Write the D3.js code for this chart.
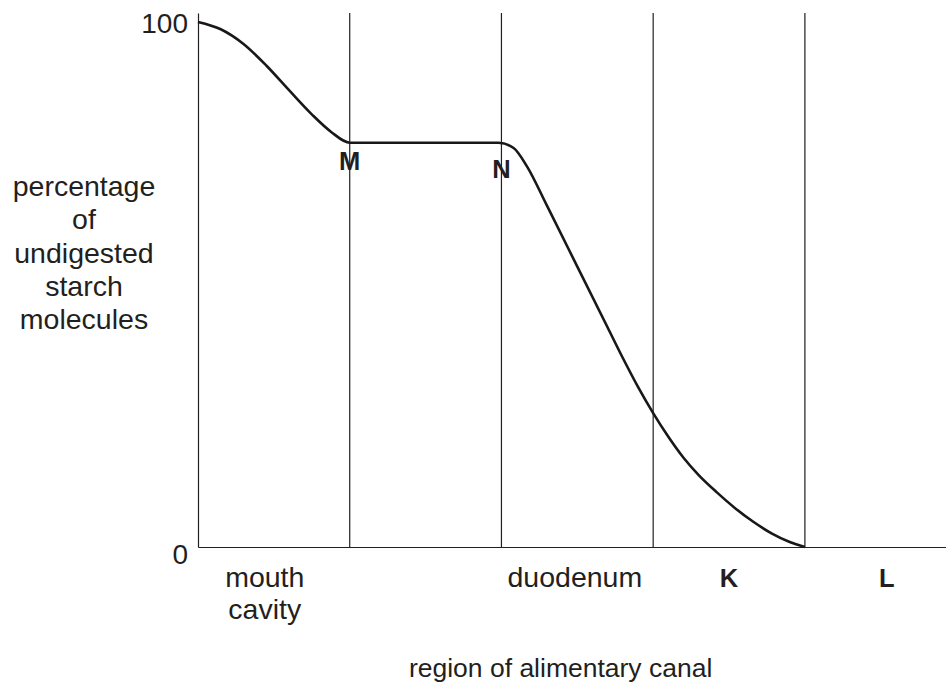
<!DOCTYPE html>
<html>
<head>
<meta charset="utf-8">
<script src="https://cdn.jsdelivr.net/npm/d3@7"></script>
<style>
  body { margin: 0; background: #fff; }
  svg { display: block; }
  text { font-family: "Liberation Sans", Arial, Helvetica, sans-serif; fill: #231f20; }
</style>
</head>
<body>
<div id="chart"></div>
<script>
// region units along x (one unit per region of the canal), percentage on y
var curveX = [0, 0.15, 0.3, 0.45, 0.6, 0.75, 0.88, 1.0, 1.5, 1.98, 2.08, 2.17, 2.3, 2.5, 2.7, 2.8, 2.9, 3.0, 3.1, 3.2, 3.3, 3.42, 3.54, 3.66, 3.78, 3.9, 4.0];
var curveY = [100, 98.6, 95.8, 91.7, 87.0, 82.4, 79.0, 77, 77, 77, 76, 72.4, 65.0, 53.4, 41.8, 36.0, 30.5, 25.5, 21.0, 17.0, 13.7, 10.4, 7.4, 4.8, 2.6, 0.95, 0];

var boundaries = [1, 2, 3, 4];
var yTicks = [0, 100];

var pointNames = ["M", "N"];
var pointX = [1, 2];
var pointY = [77, 77];

var regionNames = [["mouth", "cavity"], ["duodenum"], ["K"], ["L"]];
var regionX = [0.44, 2.484, 3.5, 4.54];
var regionBold = [false, false, true, true];

var yLabel = ["percentage", "of", "undigested", "starch", "molecules"];
var xLabel = "region of alimentary canal";

var width = 946, height = 688;
var ink = "#231f20";

var svg = d3.select("#chart").append("svg")
    .attr("width", width)
    .attr("height", height);

var x = d3.scaleLinear().domain([0, 4.93]).range([198, 946]);
var y = d3.scaleLinear().domain([0, 101.7]).range([547, 13]);

// region boundaries
svg.append("g").selectAll("line")
    .data(boundaries)
    .enter().append("line")
    .attr("x1", function(d) { return x(d); })
    .attr("x2", function(d) { return x(d); })
    .attr("y1", y(0))
    .attr("y2", y.range()[1])
    .attr("stroke", ink)
    .attr("stroke-width", 1.2);

// axes
var yAxis = d3.axisLeft(y).tickValues(yTicks).tickSize(0).tickPadding(10).tickSizeOuter(0);
var xAxis = d3.axisBottom(x).tickValues([]).tickSizeOuter(0);

var gy = svg.append("g").attr("transform", "translate(" + x(0) + ",0)").call(yAxis);
var gx = svg.append("g").attr("transform", "translate(0," + y(0) + ")").call(xAxis);

gy.select(".domain").attr("stroke", ink).attr("stroke-width", 1.2);
gx.select(".domain").attr("stroke", ink).attr("stroke-width", 1.2);
gy.selectAll("text")
    .attr("font-size", 28)
    .attr("font-family", "Liberation Sans, Arial, sans-serif")
    .attr("fill", ink)
    .attr("dy", function(d) { return d === 0 ? "0.6em" : "0.36em"; });

// the curve
var pts = curveX.map(function(d, i) { return [d, curveY[i]]; });
var line = d3.line()
    .x(function(d) { return x(d[0]); })
    .y(function(d) { return y(d[1]); })
    .curve(d3.curveMonotoneX);

svg.append("path")
    .datum(pts)
    .attr("fill", "none")
    .attr("stroke", "#1a1718")
    .attr("stroke-width", 2.6)
    .attr("d", line);

// point labels M, N
svg.append("g").selectAll("text")
    .data(pointNames)
    .enter().append("text")
    .attr("x", function(d, i) { return x(pointX[i]); })
    .attr("y", function(d, i) { return y(pointY[i]) + (i === 0 ? 27 : 35); })
    .attr("text-anchor", "middle")
    .attr("font-size", 25.5)
    .attr("font-weight", "bold")
    .text(function(d) { return d; });

// region labels
var rl = svg.append("g").selectAll("text")
    .data(regionNames)
    .enter().append("text")
    .attr("x", function(d, i) { return x(regionX[i]); })
    .attr("y", y(0) + 40)
    .attr("text-anchor", "middle")
    .attr("font-size", function(d, i) { return regionBold[i] ? 25.5 : 28.5; })
    .attr("font-weight", function(d, i) { return regionBold[i] ? "bold" : "normal"; });

rl.selectAll("tspan")
    .data(function(d, i) { return d.map(function(s) { return {s: s, i: i}; }); })
    .enter().append("tspan")
    .attr("x", function(d) { return x(regionX[d.i]); })
    .attr("dy", function(d, j) { return j === 0 ? 0 : 31.5; })
    .text(function(d) { return d.s; });

// y label
svg.append("text")
    .attr("x", 84)
    .attr("y", 196)
    .attr("text-anchor", "middle")
    .attr("font-size", 28.5)
    .selectAll("tspan")
    .data(yLabel)
    .enter().append("tspan")
    .attr("x", 84)
    .attr("dy", function(d, i) { return i === 0 ? 0 : 33.3; })
    .text(function(d) { return d; });

// x label
svg.append("text")
    .attr("x", x(2.39))
    .attr("y", 677)
    .attr("text-anchor", "middle")
    .attr("font-size", 26.5)
    .text(xLabel);
</script>
</body>
</html>
